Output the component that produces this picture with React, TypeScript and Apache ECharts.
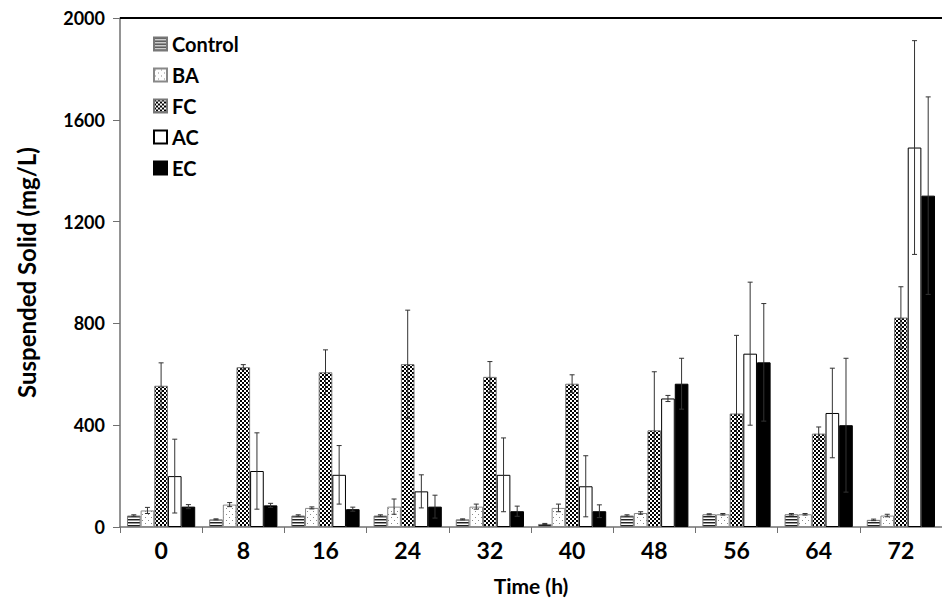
import React, { useEffect, useRef } from "react";
import * as echarts from "echarts";

const categories = ["0", "8", "16", "24", "32", "40", "48", "56", "64", "72"];
const seriesNames = ["Control", "BA", "FC", "AC", "EC"];

const controlValues = [45, 30, 45, 45, 30, 12, 45, 50, 50, 28];
const controlErrors = [3, 2, 3, 3, 2, 2, 3, 2, 3, 3];
const baValues = [65, 88, 75, 80, 80, 75, 55, 50, 50, 45];
const baErrors = [12, 8, 4, 30, 10, 15, 5, 3, 3, 5];
const fcValues = [555, 628, 608, 640, 590, 563, 380, 446, 367, 823];
const fcErrors = [90, 10, 88, 212, 60, 35, 230, 307, 26, 121];
const acValues = [200, 220, 205, 140, 205, 160, 505, 681, 448, 1491];
const acErrors = [145, 150, 115, 65, 145, 120, 12, 281, 176, 420];
const ecValues = [80, 85, 70, 80, 62, 62, 563, 647, 400, 1302];
const ecErrors = [8, 8, 8, 45, 20, 25, 100, 231, 263, 388];

const yTicks = [0, 400, 800, 1200, 1600, 2000];

const allValues = [controlValues, baValues, fcValues, acValues, ecValues];
const allErrors = [controlErrors, baErrors, fcErrors, acErrors, ecErrors];

const CAT_GAP = 0.17;
const FONT = "Lato, 'Open Sans', sans-serif";

function makePattern(w: number, h: number, draw: (ctx: CanvasRenderingContext2D) => void) {
  const c = document.createElement("canvas");
  c.width = w;
  c.height = h;
  const ctx = c.getContext("2d") as CanvasRenderingContext2D;
  draw(ctx);
  return { image: c, repeat: "repeat" } as any;
}

export default function App() {
  const ref = useRef<HTMLDivElement>(null);

  useEffect(() => {
    if (!ref.current) return;
    const chart = echarts.init(ref.current, undefined, { renderer: "svg" });

    const stripe = makePattern(2, 3, (ctx) => {
      ctx.fillStyle = "#ffffff";
      ctx.fillRect(0, 0, 2, 3);
      ctx.fillStyle = "#222222";
      ctx.fillRect(0, 0, 2, 1);
      ctx.fillStyle = "#999999";
      ctx.fillRect(0, 1, 2, 1);
    });
    const dots = makePattern(6, 6, (ctx) => {
      ctx.fillStyle = "#ffffff";
      ctx.fillRect(0, 0, 6, 6);
      ctx.fillStyle = "#8a8a8a";
      ctx.fillRect(1, 1, 1, 1);
      ctx.fillRect(4, 4, 1, 1);
    });
    const checker = makePattern(4, 4, (ctx) => {
      ctx.fillStyle = "#ffffff";
      ctx.fillRect(0, 0, 4, 4);
      ctx.fillStyle = "#000000";
      ctx.fillRect(0, 0, 2, 2);
      ctx.fillRect(2, 2, 2, 2);
    });

    const styles = [
      { color: stripe, borderColor: "#777777", borderWidth: 1 },
      { color: dots, borderColor: "#888888", borderWidth: 1 },
      { color: checker, borderColor: "#777777", borderWidth: 1 },
      { color: "#ffffff", borderColor: "#000000", borderWidth: 1 },
      { color: "#000000", borderColor: "#000000", borderWidth: 1 },
    ];

    const barSeries = seriesNames.map((name, k) => ({
      name,
      type: "bar",
      data: allValues[k],
      barGap: "0%",
      barCategoryGap: (CAT_GAP * 100).toFixed(0) + "%",
      itemStyle: styles[k],
      emphasis: { disabled: true },
    }));

    const errData: number[][] = [];
    for (let k = 0; k < seriesNames.length; k++) {
      for (let i = 0; i < categories.length; i++) {
        errData.push([i, allValues[k][i], allErrors[k][i], k]);
      }
    }

    const errorSeries = {
      type: "custom",
      name: "errors",
      z: 10,
      silent: true,
      data: errData,
      renderItem: (params: any, api: any) => {
        const cat = api.value(0);
        const v = api.value(1);
        const e = api.value(2);
        const k = api.value(3);
        if (!e) return null;
        const c = api.coord([cat, v]);
        const band = api.size([1, 0])[0];
        const barW = (band * (1 - CAT_GAP)) / 5;
        const x = c[0] + (k - 2) * barW;
        const top = api.coord([cat, v + e])[1];
        const bot = api.coord([cat, Math.max(0, v - e)])[1];
        const st = { stroke: "#333333", lineWidth: 1 };
        const cap = 2.5;
        return {
          type: "group",
          children: [
            { type: "line", shape: { x1: x, y1: top, x2: x, y2: bot }, style: st },
            { type: "line", shape: { x1: x - cap, y1: top, x2: x + cap, y2: top }, style: st },
            { type: "line", shape: { x1: x - cap, y1: bot, x2: x + cap, y2: bot }, style: st },
          ],
        };
      },
    };

    chart.setOption({
      animation: false,
      backgroundColor: "#ffffff",
      grid: { left: 120, top: 18, right: -8, bottom: 71, containLabel: false },
      legend: {
        data: seriesNames,
        orient: "vertical",
        left: 148,
        top: 29,
        itemWidth: 13,
        itemHeight: 13,
        itemGap: 11,
        icon: "rect",
        textStyle: { fontFamily: FONT, fontWeight: "bold", fontSize: 20, color: "#000" },
        selectedMode: false,
      },
      xAxis: {
        type: "category",
        data: categories,
        name: "Time (h)",
        nameLocation: "middle",
        nameGap: 48,
        nameTextStyle: { fontFamily: FONT, fontWeight: "bold", fontSize: 21, color: "#000" },
        axisLine: { show: true, lineStyle: { color: "#707070", width: 1.5 } },
        axisTick: { show: true, alignWithLabel: false, length: 6, lineStyle: { color: "#707070" } },
        axisLabel: { fontFamily: FONT, fontWeight: "bold", fontSize: 23, color: "#000", margin: 11 },
        splitLine: { show: false },
      },
      yAxis: {
        type: "value",
        min: 0,
        max: 2000,
        interval: 400,
        name: "Suspended Solid (mg/L)",
        nameLocation: "middle",
        nameGap: 82,
        nameRotate: 90,
        nameTextStyle: { fontFamily: FONT, fontWeight: "bold", fontSize: 24, color: "#000" },
        axisLine: { show: true, lineStyle: { color: "#707070", width: 1.5 } },
        axisTick: { show: true, length: 7, lineStyle: { color: "#707070" } },
        axisLabel: {
          fontFamily: FONT,
          fontWeight: "bold",
          fontSize: 18,
          color: "#000",
          margin: 15,
          formatter: (v: number) => (yTicks.includes(v) ? String(v) : ""),
        },
        splitLine: { show: false },
      },
      graphic: [
        {
          type: "line",
          shape: { x1: 120, y1: 18, x2: 942, y2: 18 },
          style: { stroke: "#000000", lineWidth: 2 },
          z: 100,
        },
      ],
      series: [...barSeries, errorSeries],
    });

    return () => chart.dispose();
  }, []);

  return (
    <div
      ref={ref}
      style={{ position: "fixed", left: 0, top: 0, width: 942, height: 601, background: "#fff" }}
    />
  );
}
